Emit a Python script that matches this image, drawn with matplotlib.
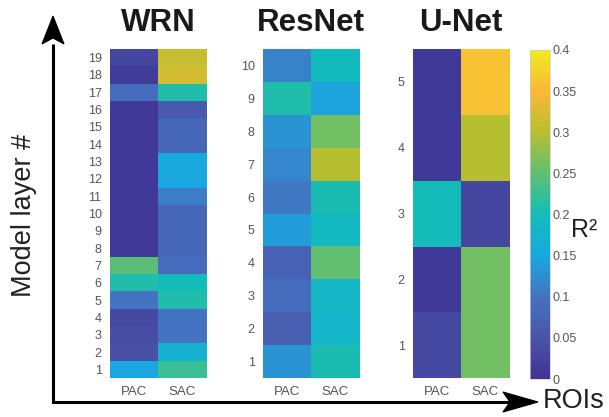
import numpy as np
import matplotlib
matplotlib.use('Agg')
import matplotlib.pyplot as plt
from matplotlib.colors import LinearSegmentedColormap
from matplotlib.patches import Polygon

# R^2 per layer (layer 1 first), columns PAC / SAC
wrn_pac = [0.15, 0.045, 0.04, 0.035, 0.10, 0.21, 0.245, 0.01, 0.01, 0.01,
           0.01, 0.01, 0.01, 0.01, 0.01, 0.01, 0.09, 0.015, 0.03]
wrn_sac = [0.225, 0.17, 0.10, 0.10, 0.21, 0.20, 0.09, 0.08, 0.08, 0.08,
           0.11, 0.15, 0.155, 0.08, 0.08, 0.06, 0.21, 0.32, 0.31]
resnet_pac = [0.13, 0.07, 0.09, 0.075, 0.14, 0.105, 0.12, 0.13, 0.21, 0.115]
resnet_sac = [0.205, 0.18, 0.185, 0.25, 0.19, 0.205, 0.30, 0.26, 0.145, 0.195]
unet_pac = [0.035, 0.01, 0.20, 0.01, 0.01]
unet_sac = [0.26, 0.26, 0.03, 0.30, 0.36]

titles = ['WRN', 'ResNet', 'U-Net']
rois = ['PAC', 'SAC']
cbar_ticks = [0, 0.05, 0.1, 0.15, 0.2, 0.25, 0.3, 0.35, 0.4]

# parula-like colormap
parula = LinearSegmentedColormap.from_list('parula', [
    (0.25, 0.20, 0.58), (0.29, 0.33, 0.66), (0.27, 0.45, 0.76),
    (0.10, 0.66, 0.88), (0.07, 0.74, 0.73), (0.38, 0.75, 0.45),
    (0.72, 0.75, 0.19), (0.98, 0.72, 0.22), (0.95, 0.92, 0.12)])

plt.rcParams['font.family'] = ['Liberation Sans', 'DejaVu Sans']

fig = plt.figure(figsize=(6.09, 4.17), dpi=100)
W, H = 609, 417

panels = [(wrn_pac, wrn_sac), (resnet_pac, resnet_sac), (unet_pac, unet_sac)]
lefts = [110, 263, 413]
for (pac, sac), left, title in zip(panels, lefts, titles):
    ax = fig.add_axes([left / W, 1 - 378 / H, 96 / W, 329 / H])
    data = np.column_stack([pac, sac])
    im = ax.imshow(data, origin='lower', aspect='auto', cmap=parula,
                   vmin=0, vmax=0.4, interpolation='nearest')
    n = len(pac)
    ax.set_yticks(range(n))
    ax.set_yticklabels([str(i + 1) for i in range(n)])
    ax.set_xticks([0, 1])
    ax.set_xticklabels(rois)
    ax.tick_params(axis='y', length=0, labelsize=9, colors='#555555', pad=6)
    ax.tick_params(axis='x', length=0, labelsize=9.5, colors='#555555', pad=6)
    for s in ax.spines.values():
        s.set_visible(False)
    fig.text((left + 48) / W, 1 - 23 / H, title, ha='center', va='center',
             fontsize=22.5, fontweight='bold', color='#1a1a1a')

cax = fig.add_axes([530 / W, 1 - 379 / H, 20 / W, 329 / H])
cb = fig.colorbar(im, cax=cax, ticks=cbar_ticks)
cb.ax.set_yticklabels(['0', '0.05', '0.1', '0.15', '0.2', '0.25', '0.3', '0.35', '0.4'])
cb.ax.tick_params(length=0, labelsize=9, colors='#555555', pad=2)
cb.outline.set_linewidth(0.5)
cb.outline.set_edgecolor('#cccccc')

fig.text(571 / W, 1 - 230 / H, 'R²', ha='left', va='center', fontsize=18,
         color='#222222')

# axis arrows drawn in pixel coordinates on an overlay
ov = fig.add_axes([0, 0, 1, 1], zorder=-1)
ov.set_xlim(0, W)
ov.set_ylim(H, 0)
ov.axis('off')
ov.plot([53, 53, 512], [44, 402, 402], color='black', lw=2.2,
        solid_joinstyle='miter', solid_capstyle='butt')
ov.add_patch(Polygon([(53, 16), (42, 44), (53, 38), (64, 44)], closed=True,
                     facecolor='black', edgecolor='black', lw=0.8))
ov.add_patch(Polygon([(538, 402), (503, 392), (510, 402), (503, 412)], closed=True,
                     facecolor='black', edgecolor='black', lw=0.8))

fig.text(24 / W, 1 - 215 / H, 'Model layer #', rotation=90, ha='center', va='center',
         fontsize=19.5, color='#222222')
fig.text(543 / W, 1 - 401 / H, 'ROIs', ha='left', va='center', fontsize=19.5,
         color='#222222')

fig.savefig('out.png', dpi=100)
